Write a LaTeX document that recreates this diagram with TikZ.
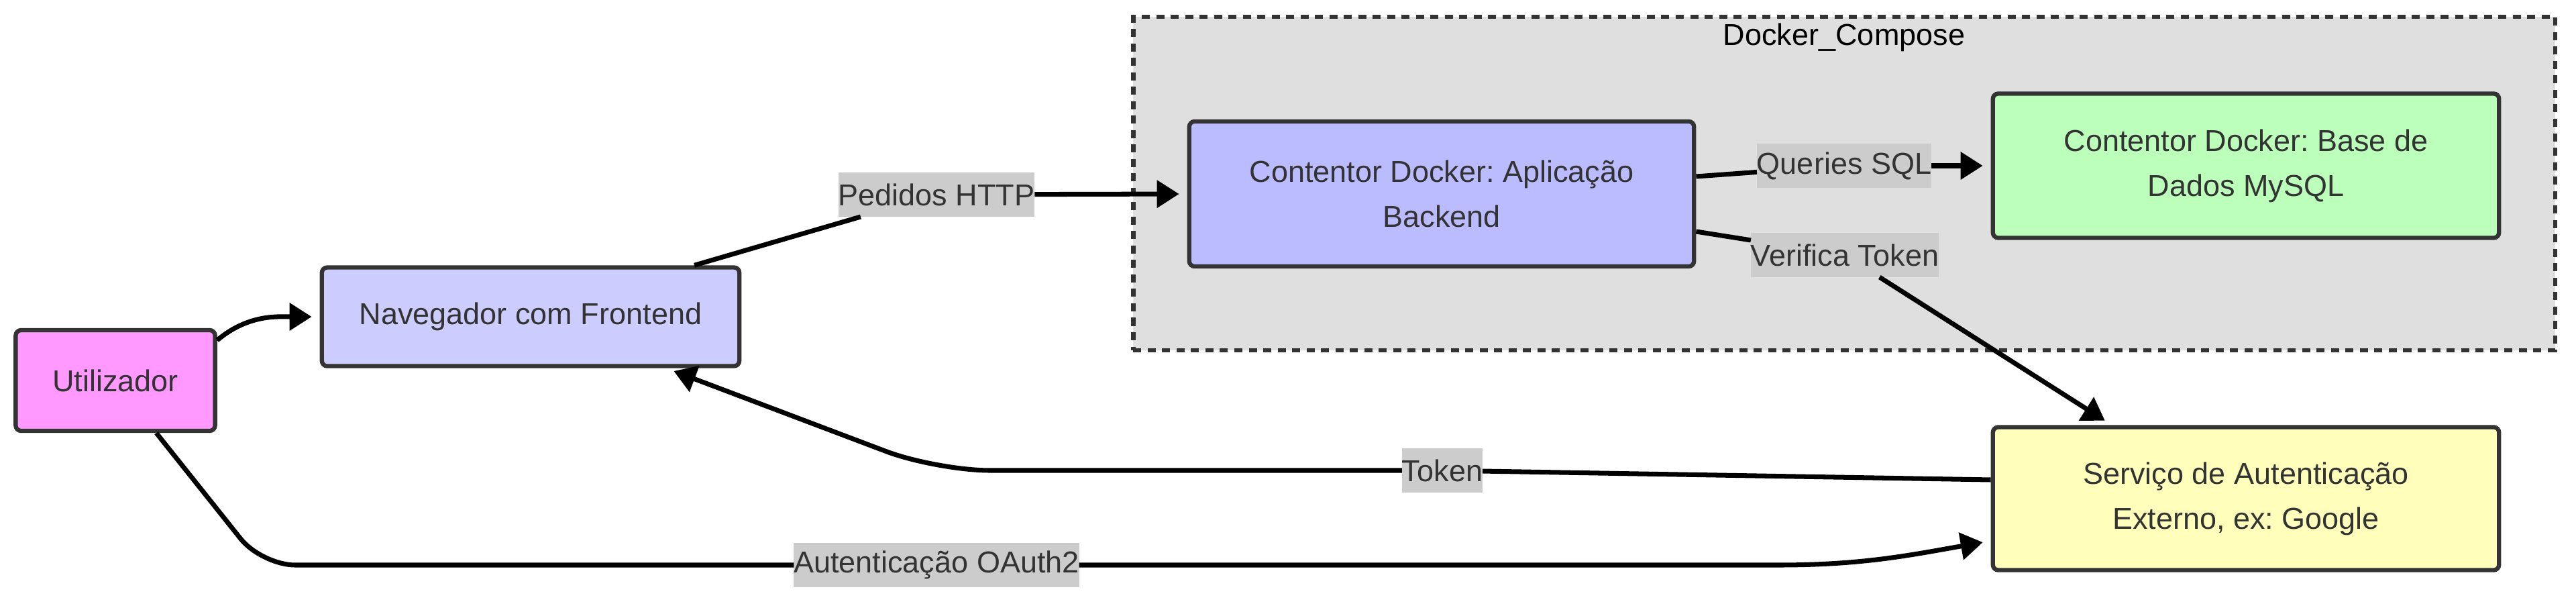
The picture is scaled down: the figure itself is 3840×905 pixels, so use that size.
\documentclass[tikz,border=0pt]{standalone}
\usepackage{fontspec}
\setmainfont{Liberation Sans}
\usepackage{tikz}
\usetikzlibrary{arrows.meta}
\definecolor{userpink}{HTML}{FF99FF}
\definecolor{navblue}{HTML}{CCCCFF}
\definecolor{backblue}{HTML}{BBBBFF}
\definecolor{dbgreen}{HTML}{BBFFBB}
\definecolor{authyellow}{HTML}{FFFFBB}
\definecolor{composegray}{HTML}{DFDFDF}
\definecolor{lblgray}{HTML}{CCCCCC}
\definecolor{darkline}{HTML}{333333}
\frenchspacing

\begin{document}
\begin{tikzpicture}[x=0.01cm,y=0.01cm,font=\fontsize{12.8}{19}\selectfont,
    comp/.style={draw=darkline,line width=1.8pt,rounded corners=0.08cm,text=darkline,align=center,inner sep=0pt},
    lbl/.style={fill=lblgray,text=darkline,inner xsep=0pt,inner ysep=0pt,minimum height=0.66cm,outer sep=0pt},
    flow/.style={line width=2pt},
    flowarrow/.style={flow,-{Triangle[length=0.33cm,width=0.4cm]},shorten >=0.12cm}]
    \useasboundingbox (0,0) rectangle (3840,905);
    \node[draw=darkline,fill=composegray,line width=1.8pt,dash pattern=on 0.12cm off 0.095cm,
      minimum width=21.18cm,minimum height=4.97cm,inner sep=0pt] (compose) at (2749,631.5) {};
    \node (composelbl) at ([yshift=-0.34cm]compose.north) {Docker\_Compose};

    \node[comp,fill=userpink,minimum width=2.97cm,minimum height=1.50cm] (user) at (172,338) {Utilizador};
    \node[comp,fill=navblue,minimum width=6.22cm,minimum height=1.47cm] (nav) at (791,433) {Navegador com Frontend};
    \node[comp,fill=backblue,minimum width=7.52cm,minimum height=2.16cm] (backend) at (2149,616)
      {Contentor Docker: Aplicação\\Backend};
    \node[comp,fill=dbgreen,minimum width=7.54cm,minimum height=2.15cm] (mysql) at (3348,658)
      {Contentor Docker: Base de\\Dados MySQL};
    \node[comp,fill=authyellow,minimum width=7.54cm,minimum height=2.13cm] (auth) at (3348,162)
      {Serviço de Autenticação\\Externo, ex: Google};

    \node[lbl] (http) at (1396,615) {Pedidos HTTP};
    \node[lbl] (sql) at (2749,658) {Queries SQL};
    \node[lbl] (verif) at (2750,525) {Verifica Token};
    \node[lbl] (token) at (2150,204) {Token};
    \node[lbl] (oauth) at (1396,63) {Autenticação OAuth2};

    \coordinate (tokbend) at (1396,204);
    \coordinate (oauthbend) at (390,63);
    \coordinate (oauthrise) at (2650,63);

    \draw[flowarrow] ([yshift=0.6cm]user.east) to[out=40,in=180] (nav.west);
    \draw[flow] ([xshift=2.44cm]nav.north) -- (http);
    \draw[flowarrow] (http) -- (backend.west);
    \draw[flow] ([yshift=0.26cm]backend.east) -- (sql);
    \draw[flowarrow] (sql) -- (mysql.west);
    \draw[flow] ([yshift=-0.56cm]backend.east) -- (verif);
    \draw[flowarrow] (verif) -- ([xshift=-2.0cm]auth.north);
    \draw[flow] ([yshift=0.28cm]auth.west) -- (token);
    \draw[flowarrow,rounded corners=0.8cm] (token) -- (tokbend) -- ([xshift=2.02cm]nav.south);
    \draw[flow,rounded corners=0.5cm] ([xshift=0.61cm]user.south) -- (oauthbend) -- (oauth);
    \draw[flowarrow] (oauth) -- (oauthrise) to[out=0,in=190] ([yshift=-0.63cm]auth.west);
\end{tikzpicture}
\end{document}
